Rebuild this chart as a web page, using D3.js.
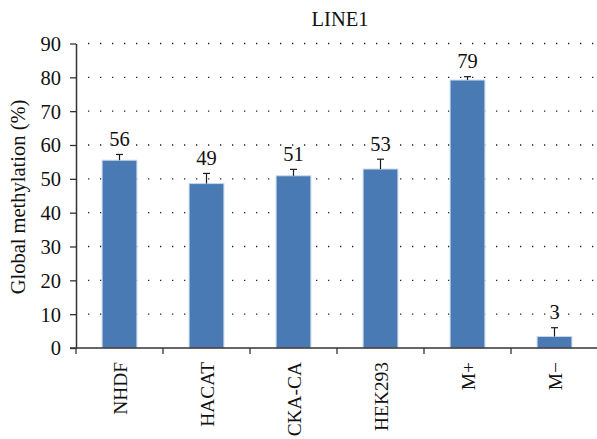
<!DOCTYPE html>
<html>
<head>
<meta charset="utf-8">
<script src="https://cdn.jsdelivr.net/npm/d3@7"></script>
<style>
body{margin:0;background:#fff;}
svg{display:block;}
</style>
</head>
<body>
<svg id="chart" width="597" height="439"></svg>
<script>
const categories = ["NHDF","HACAT","CKA-CA","HEK293","M+","M\u2212"];
const values = [55.5, 48.6, 50.9, 52.9, 79.2, 3.4];
const errors = [1.7, 3.0, 1.9, 2.9, 1.0, 2.6];
const labels = ["56","49","51","53","79","3"];
const yTicks = [0,10,20,30,40,50,60,70,80,90];

const FONT = "'Liberation Serif','Times New Roman',serif";
const FS = 20.5;
const FSC = 19.4;
const TXT = "#111";
const svg = d3.select("#chart");
const m = {left:76};
const x = d3.scaleBand().domain(categories).range([m.left, 598]).paddingInner(0.6).paddingOuter(0.3);
const y = d3.scaleLinear().domain([0,90]).range([348, 43.5]);

// gridlines
svg.append("g").selectAll("line").data(yTicks.filter(d=>d>0)).join("line")
  .attr("x1", m.left+12).attr("x2", 597)
  .attr("y1", d=>y(d)).attr("y2", d=>y(d))
  .attr("stroke","#222").attr("stroke-width",1.3)
  .attr("stroke-dasharray","1.3 10.7");

// bars
svg.append("g").selectAll("rect").data(categories).join("rect")
  .attr("x", d=>x(d)).attr("width", x.bandwidth())
  .attr("y", (d,i)=>y(values[i])).attr("height",(d,i)=>y(0)-y(values[i]))
  .attr("fill","#4a7ab4").attr("stroke","#c8d8ec").attr("stroke-width",1);

// error bars
const eb = svg.append("g").attr("stroke","#1a1a1a").attr("stroke-width",1.2);
categories.forEach((c,i)=>{
  const cx = x(c)+x.bandwidth()/2;
  eb.append("line").attr("x1",cx).attr("x2",cx).attr("y1",y(values[i])).attr("y2",y(values[i]+errors[i]));
  eb.append("line").attr("x1",cx-3.5).attr("x2",cx+3.5).attr("y1",y(values[i]+errors[i])).attr("y2",y(values[i]+errors[i]));
});

// value labels
svg.append("g").selectAll("text").data(categories).join("text")
  .attr("x", d=>x(d)+x.bandwidth()/2)
  .attr("y",(d,i)=>y(values[i]+errors[i])-8.5)
  .attr("text-anchor","middle").attr("font-size",FS).attr("font-family",FONT).attr("fill",TXT)
  .text((d,i)=>labels[i]);

// y axis
const yAxis = d3.axisLeft(y).tickValues(yTicks).tickSize(6).tickSizeOuter(0);
const gy = svg.append("g").attr("transform",`translate(${m.left},0)`).call(yAxis);
gy.attr("font-family",FONT).attr("font-size",FS);
gy.select(".domain").attr("stroke","#333").attr("stroke-width",1.5);
gy.selectAll(".tick line").attr("stroke","#333").attr("stroke-width",1.3);
gy.selectAll(".tick text").attr("fill",TXT).attr("x",-15).attr("dy","0.34em");

// x axis
const gx = svg.append("g").attr("transform",`translate(0,${y(0)})`);
gx.append("line").attr("x1",m.left-6).attr("x2",597).attr("y1",0).attr("y2",0).attr("stroke","#333").attr("stroke-width",1.5);
const bounds = categories.map(c=>x(c)-x.step()*x.paddingInner()/2);
gx.selectAll(".bt").data(bounds).join("line").attr("class","bt")
  .attr("x1",d=>d).attr("x2",d=>d).attr("y1",0).attr("y2",6)
  .attr("stroke","#333").attr("stroke-width",1.3);
gx.selectAll(".cl").data(categories).join("text").attr("class","cl")
  .attr("transform",d=>`translate(${x(d)+x.bandwidth()/2+7},14) rotate(-90)`)
  .attr("text-anchor","end").attr("font-size",FSC).attr("font-family",FONT).attr("fill",TXT)
  .text(d=>d);

// y label
svg.append("text").attr("transform","translate(25,197) rotate(-90)")
  .attr("text-anchor","middle").attr("font-size",FS).attr("font-family",FONT).attr("fill",TXT)
  .text("Global methylation (%)");

// title
svg.append("text").attr("x",340).attr("y",26).attr("text-anchor","middle")
  .attr("font-size",FS).attr("font-family",FONT).attr("fill",TXT).text("LINE1");
</script>
</body>
</html>
